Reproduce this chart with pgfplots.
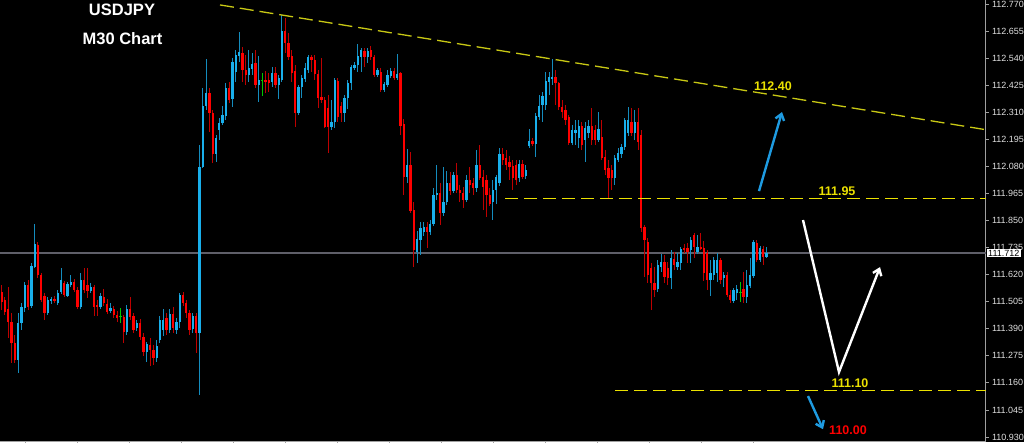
\documentclass[border=0pt]{standalone}
\usepackage{pgfplots}
\pgfplotsset{compat=1.18}
\usepackage{pgfplotstable}
\usetikzlibrary{arrows.meta}
\usepackage{fontspec}
\setmainfont{Liberation Sans}

\definecolor{bullBody}{RGB}{25,175,235}
\definecolor{bullWick}{RGB}{20,140,190}
\definecolor{bearBody}{RGB}{255,0,0}
\definecolor{bearWick}{RGB}{190,0,0}
\definecolor{dojiCol}{RGB}{0,200,0}
\definecolor{axisGray}{RGB}{160,160,160}
\definecolor{priceLine}{RGB}{95,95,105}
\definecolor{trendYel}{RGB}{200,200,20}
\definecolor{lvlYel}{RGB}{235,225,0}
\definecolor{arrBlue}{RGB}{30,155,225}

% M30 candles: index, open, high, low, close
\pgfplotstableread{
i o h l c
0 111.546 111.576 111.470 111.504
1 111.512 111.525 111.448 111.461
2 111.474 111.567 111.350 111.419
3 111.419 111.457 111.244 111.329
4 111.329 111.363 111.244 111.257
5 111.257 111.457 111.202 111.414
6 111.414 111.499 111.385 111.482
7 111.478 111.589 111.461 111.576
8 111.576 111.597 111.470 111.482
9 111.487 111.669 111.478 111.657
10 111.652 111.835 111.648 111.750
11 111.746 111.759 111.606 111.619
12 111.619 111.627 111.504 111.512
13 111.529 111.542 111.427 111.457
14 111.457 111.525 111.448 111.512
15 111.508 111.525 111.495 111.516
16 111.516 111.529 111.499 111.508
17 111.499 111.555 111.491 111.542
18 111.546 111.648 111.538 111.597
19 111.584 111.593 111.525 111.533
20 111.529 111.589 111.525 111.580
21 111.576 111.619 111.567 111.589
22 111.589 111.601 111.546 111.555
23 111.555 111.567 111.474 111.482
24 111.482 111.627 111.474 111.597
25 111.597 111.648 111.542 111.555
26 111.576 111.648 111.521 111.550
27 111.550 111.584 111.542 111.567
28 111.567 111.576 111.444 111.482
29 111.491 111.512 111.444 111.482
30 111.482 111.542 111.474 111.529
31 111.525 111.559 111.487 111.499
32 111.499 111.516 111.453 111.465
33 111.465 111.499 111.457 111.478
34 111.474 111.487 111.436 111.448
35 111.448 111.465 111.419 111.436
36 111.440 111.478 111.414 111.440
37 111.440 111.448 111.329 111.376
38 111.376 111.491 111.363 111.474
39 111.474 111.525 111.427 111.440
40 111.444 111.457 111.372 111.385
41 111.393 111.427 111.380 111.414
42 111.414 111.431 111.342 111.355
43 111.355 111.372 111.274 111.291
44 111.291 111.333 111.249 111.325
45 111.321 111.350 111.232 111.300
46 111.300 111.321 111.236 111.266
47 111.266 111.342 111.249 111.317
48 111.342 111.444 111.329 111.427
49 111.385 111.474 111.359 111.427
50 111.436 111.457 111.363 111.385
51 111.385 111.474 111.372 111.453
52 111.453 111.482 111.372 111.393
53 111.385 111.436 111.367 111.419
54 111.419 111.542 111.393 111.533
55 111.533 111.546 111.487 111.499
56 111.499 111.512 111.436 111.457
57 111.457 111.470 111.363 111.385
58 111.389 111.457 111.372 111.444
59 111.444 111.457 111.287 111.372
60 111.372 112.171 111.108 112.077
61 112.077 112.413 112.073 112.337
62 112.337 112.536 112.320 112.392
63 112.392 112.413 112.226 112.307
64 112.307 112.320 112.094 112.133
65 112.133 112.213 112.099 112.201
66 112.235 112.286 112.192 112.264
67 112.264 112.337 112.256 112.298
68 112.294 112.434 112.277 112.413
69 112.413 112.438 112.349 112.362
70 112.366 112.540 112.332 112.523
71 112.481 112.574 112.438 112.553
72 112.549 112.651 112.523 112.566
73 112.562 112.587 112.438 112.489
74 112.489 112.553 112.426 112.468
75 112.468 112.574 112.438 112.498
76 112.494 112.562 112.468 112.515
77 112.519 112.574 112.413 112.426
78 112.426 112.549 112.353 112.447
79 112.447 112.477 112.379 112.447
80 112.447 112.485 112.392 112.438
81 112.447 112.477 112.396 112.434
82 112.438 112.502 112.417 112.477
83 112.477 112.502 112.413 112.426
84 112.426 112.468 112.366 112.455
85 112.447 112.723 112.438 112.655
86 112.655 112.711 112.562 112.604
87 112.604 112.647 112.532 112.545
88 112.549 112.574 112.438 112.477
89 112.485 112.511 112.247 112.307
90 112.307 112.426 112.298 112.417
91 112.417 112.468 112.371 112.455
92 112.451 112.519 112.438 112.498
93 112.489 112.553 112.477 112.545
94 112.545 112.553 112.481 112.532
95 112.532 112.553 112.447 112.472
96 112.472 112.489 112.328 112.371
97 112.375 112.540 112.349 112.362
98 112.362 112.375 112.243 112.247
99 112.328 112.383 112.137 112.247
100 112.247 112.362 112.235 112.269
101 112.269 112.455 112.243 112.447
102 112.443 112.455 112.269 112.290
103 112.337 112.353 112.269 112.307
104 112.307 112.383 112.269 112.371
105 112.371 112.447 112.324 112.434
106 112.434 112.511 112.405 112.502
107 112.498 112.523 112.489 112.511
108 112.511 112.600 112.481 112.553
109 112.545 112.583 112.481 112.574
110 112.570 112.583 112.502 112.545
111 112.545 112.583 112.519 112.570
112 112.574 112.591 112.532 112.545
113 112.545 112.553 112.460 112.468
114 112.468 112.498 112.460 112.489
115 112.481 112.498 112.396 112.405
116 112.405 112.438 112.396 112.430
117 112.426 112.489 112.417 112.468
118 112.464 112.498 112.455 112.485
119 112.485 112.498 112.447 112.455
120 112.455 112.557 112.447 112.472
121 112.477 112.481 112.213 112.252
122 112.260 112.281 111.958 112.035
123 112.035 112.154 112.009 112.086
124 112.086 112.141 111.882 111.890
125 111.895 111.929 111.652 111.725
126 111.716 111.805 111.669 111.771
127 111.767 111.844 111.703 111.818
128 111.801 111.844 111.784 111.822
129 111.822 111.844 111.733 111.801
130 111.801 111.852 111.788 111.835
131 111.835 111.988 111.827 111.958
132 111.958 112.086 111.937 111.967
133 111.967 112.009 111.831 111.882
134 111.882 112.077 111.869 111.929
135 111.929 112.060 111.916 112.009
136 112.009 112.056 111.958 111.975
137 111.975 112.056 111.967 112.043
138 112.043 112.094 111.967 111.980
139 111.980 112.001 111.929 111.967
140 111.967 111.992 111.903 111.937
141 111.937 112.043 111.929 112.022
142 112.022 112.077 111.967 112.001
143 112.009 112.031 111.958 111.988
144 111.988 112.150 111.971 112.086
145 112.086 112.171 112.022 112.031
146 112.035 112.065 111.895 111.992
147 112.022 112.043 111.865 111.958
148 111.958 111.988 111.912 111.920
149 111.929 112.022 111.852 111.980
150 111.980 112.043 111.920 112.035
151 112.009 112.158 111.997 112.133
152 112.133 112.158 112.086 112.107
153 112.116 112.150 112.065 112.086
154 112.099 112.124 112.022 112.077
155 112.082 112.107 111.980 112.031
156 112.086 112.107 112.001 112.022
157 112.031 112.107 112.014 112.090
158 112.090 112.107 112.026 112.035
159 112.039 112.086 112.026 112.065
160 112.167 112.239 112.158 112.188
161 112.188 112.201 112.167 112.175
162 112.175 112.307 112.120 112.294
163 112.290 112.383 112.277 112.337
164 112.341 112.396 112.269 112.379
165 112.341 112.481 112.320 112.443
166 112.438 112.481 112.383 112.460
167 112.451 112.536 112.426 112.460
168 112.460 112.489 112.341 112.434
169 112.434 112.438 112.320 112.332
170 112.332 112.362 112.286 112.311
171 112.320 112.341 112.256 112.277
172 112.290 112.298 112.171 112.179
173 112.179 112.256 112.171 112.235
174 112.222 112.277 112.171 112.235
175 112.201 112.277 112.158 112.252
176 112.252 112.269 112.150 112.171
177 112.192 112.269 112.099 112.243
178 112.222 112.277 112.201 112.252
179 112.252 112.328 112.171 112.192
180 112.235 112.256 112.171 112.192
181 112.192 112.311 112.184 112.239
182 112.205 112.277 112.107 112.116
183 112.120 112.150 112.043 112.065
184 112.073 112.107 111.946 112.031
185 112.065 112.086 111.980 112.031
186 112.031 112.128 112.001 112.116
187 112.107 112.158 112.099 112.137
188 112.133 112.175 112.116 112.162
189 112.162 112.286 112.150 112.277
190 112.222 112.332 112.209 112.277
191 112.269 112.328 112.209 112.222
192 112.222 112.320 112.192 112.269
193 112.269 112.328 112.150 112.184
194 112.213 112.235 111.801 111.818
195 111.822 111.831 111.610 111.767
196 111.759 111.776 111.584 111.619
197 111.648 111.669 111.470 111.584
198 111.584 111.652 111.525 111.555
199 111.559 111.682 111.546 111.661
200 111.652 111.708 111.631 111.674
201 111.674 111.703 111.584 111.610
202 111.648 111.674 111.576 111.606
203 111.606 111.725 111.559 111.690
204 111.690 111.716 111.640 111.661
205 111.652 111.712 111.640 111.674
206 111.669 111.737 111.640 111.729
207 111.733 111.750 111.712 111.725
208 111.733 111.754 111.669 111.716
209 111.725 111.780 111.669 111.767
210 111.788 111.797 111.690 111.737
211 111.716 111.788 111.708 111.737
212 111.737 111.797 111.725 111.733
213 111.733 111.767 111.597 111.627
214 111.712 111.725 111.555 111.597
215 111.597 111.682 111.529 111.627
216 111.619 111.695 111.597 111.682
217 111.627 111.712 111.589 111.682
218 111.682 111.690 111.580 111.597
219 111.606 111.631 111.567 111.619
220 111.619 111.631 111.525 111.533
221 111.533 111.555 111.499 111.512
222 111.508 111.563 111.499 111.555
223 111.542 111.576 111.512 111.559
224 111.546 111.589 111.504 111.546
225 111.559 111.631 111.499 111.525
226 111.525 111.640 111.499 111.576
227 111.572 111.690 111.563 111.619
228 111.614 111.767 111.606 111.759
229 111.754 111.767 111.674 111.682
230 111.682 111.742 111.674 111.733
231 111.729 111.742 111.661 111.695
232 111.695 111.737 111.690 111.712
}\candles

\begin{document}
\begin{tikzpicture}
\useasboundingbox (0,0) rectangle (1024pt,442pt);
\fill[black] (0,0) rectangle (1024pt,442pt);
\begin{axis}[
    at={(0pt,1pt)}, anchor=south west,
    scale only axis,
    width=985.5pt, height=441pt,
    xmin=0, xmax=985.5,
    ymin=110.913, ymax=112.787,
    axis x line*=bottom, axis y line*=right,
    axis line style={draw=axisGray, line width=0.8pt, -},
    tick align=outside,
    major tick length=3pt,
    tick style={draw=axisGray, line width=0.8pt},
    xtick={25,77,129,181,233,285,337,389,441,493,545,597,649,701,753},
    xticklabels={},
    ytick={110.930,111.045,111.160,111.275,111.390,111.505,111.620,111.735,111.850,111.965,112.080,112.195,112.310,112.425,112.540,112.655,112.770},
    yticklabel style={font=\fontsize{9}{10}\selectfont, text=white!88!black,
        /pgf/number format/fixed, /pgf/number format/fixed zerofill,
        /pgf/number format/precision=3, /pgf/number format/assume math mode=true},
    clip=false,
]
% current price line
\addplot[priceLine, line width=1.2pt, forget plot] coordinates {(0,111.712) (985.5,111.712)};

% wicks
\addplot[draw=none, mark=none, forget plot,
    restrict expr to domain={\thisrow{c}-\thisrow{o}}{0.0001:5},
    error bars/.cd, y dir=both, y explicit, error mark=none,
    error bar style={draw=bullWick, line width=1pt}]
  table[x expr=1.7+3.297*\thisrow{i}, y expr={(\thisrow{h}+\thisrow{l})/2},
        y error expr={(\thisrow{h}-\thisrow{l})/2}] {\candles};
\addplot[draw=none, mark=none, forget plot,
    restrict expr to domain={\thisrow{c}-\thisrow{o}}{-5:-0.0001},
    error bars/.cd, y dir=both, y explicit, error mark=none,
    error bar style={draw=bearWick, line width=1pt}]
  table[x expr=1.7+3.297*\thisrow{i}, y expr={(\thisrow{h}+\thisrow{l})/2},
        y error expr={(\thisrow{h}-\thisrow{l})/2}] {\candles};
\addplot[draw=none, mark=none, forget plot,
    restrict expr to domain={\thisrow{c}-\thisrow{o}}{-0.0001:0.0001},
    error bars/.cd, y dir=both, y explicit, error mark=none,
    error bar style={draw=dojiCol, line width=1pt}]
  table[x expr=1.7+3.297*\thisrow{i}, y expr={(\thisrow{h}+\thisrow{l})/2},
        y error expr={(\thisrow{h}-\thisrow{l})/2}] {\candles};

% bodies
\addplot[draw=none, mark=none, forget plot,
    restrict expr to domain={\thisrow{c}-\thisrow{o}}{0.0001:5},
    error bars/.cd, y dir=both, y explicit, error mark=none,
    error bar style={draw=bullBody, line width=2.3pt}]
  table[x expr=1.7+3.297*\thisrow{i}, y expr={(\thisrow{o}+\thisrow{c})/2},
        y error expr={(\thisrow{c}-\thisrow{o})/2}] {\candles};
\addplot[draw=none, mark=none, forget plot,
    restrict expr to domain={\thisrow{c}-\thisrow{o}}{-5:-0.0001},
    error bars/.cd, y dir=both, y explicit, error mark=none,
    error bar style={draw=bearBody, line width=2.3pt}]
  table[x expr=1.7+3.297*\thisrow{i}, y expr={(\thisrow{o}+\thisrow{c})/2},
        y error expr={(\thisrow{o}-\thisrow{c})/2}] {\candles};
\addplot[only marks, mark=-, mark size=1.3pt, dojiCol, mark options={line width=1pt}, forget plot,
    restrict expr to domain={\thisrow{c}-\thisrow{o}}{-0.0001:0.0001}]
  table[x expr=1.7+3.297*\thisrow{i}, y=o] {\candles};

% trend line and levels
\addplot[trendYel, line width=1.3pt, dash pattern=on 14pt off 6pt, forget plot]
  coordinates {(220,112.766) (985.5,112.236)};
\addplot[lvlYel, line width=1.2pt, dash pattern=on 13pt off 6pt, forget plot]
  coordinates {(505,111.944) (985.5,111.944)};
\addplot[lvlYel, line width=1.2pt, dash pattern=on 13pt off 6pt, forget plot]
  coordinates {(615,111.129) (985.5,111.129)};

% arrows
\draw[arrBlue, line width=2.4pt, -{Straight Barb[length=6pt,width=9pt]}]
  (axis cs:759,111.975) -- (axis cs:782,112.311);
\draw[white, line width=2.4pt, -{Straight Barb[length=6pt,width=9pt]}, line join=miter]
  (axis cs:803,111.852) -- (axis cs:839,111.206) -- (axis cs:880,111.652);
\draw[arrBlue, line width=2.4pt, -{Straight Barb[length=6pt,width=9pt]}]
  (axis cs:808,111.104) -- (axis cs:823,110.963);

% labels
\node[text=white, font=\bfseries\fontsize{16.5}{18}\selectfont] at (axis cs:122,112.747) {USDJPY};
\node[text=white, font=\bfseries\fontsize{16.5}{18}\selectfont] at (axis cs:122.5,112.621) {M30 Chart};
\node[text=lvlYel, font=\bfseries\fontsize{12.5}{14}\selectfont] at (axis cs:773,112.422) {112.40};
\node[text=lvlYel, font=\bfseries\fontsize{12.5}{14}\selectfont] at (axis cs:837,111.975) {111.95};
\node[text=lvlYel, font=\bfseries\fontsize{12.5}{14}\selectfont] at (axis cs:850,111.159) {111.10};
\node[text=red, font=\bfseries\fontsize{12.5}{14}\selectfont] at (axis cs:848,110.960) {110.00};
\node[fill=white, text=black, anchor=west, inner xsep=1.5pt, inner ysep=1pt,
      font=\fontsize{9}{10}\selectfont] at (axis cs:986.5,111.712) {111.712};
\end{axis}
\end{tikzpicture}
\end{document}
